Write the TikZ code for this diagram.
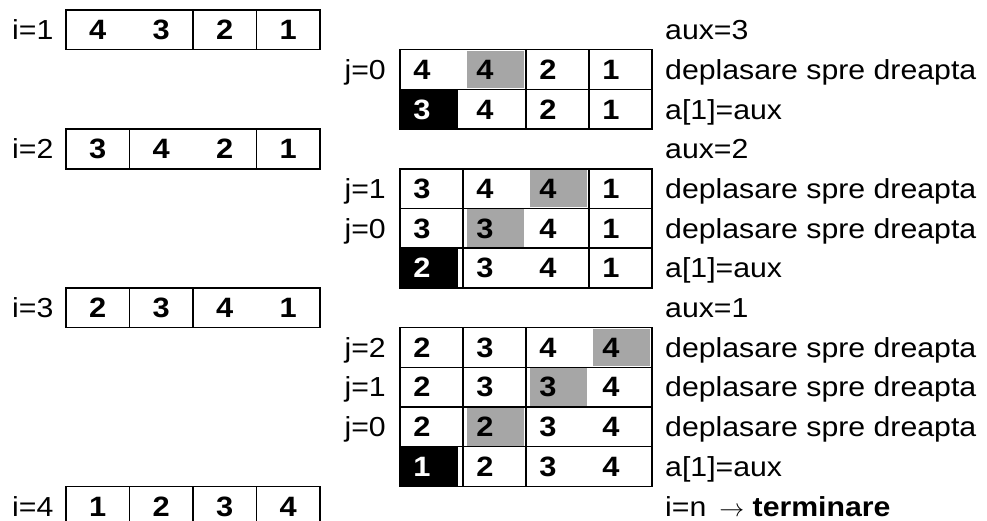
\documentclass[tikz,border=0pt]{standalone}
\usepackage{fontspec}
\setmainfont{Liberation Sans}[FakeStretch=1.1]
\tikzset{
  grid/.style={line width=1.5pt, line cap=rect},
  lab/.style={inner sep=0pt, font=\fontsize{27.5}{32}\selectfont},
  digit/.style={inner sep=0pt, font=\fontsize{28}{32}\selectfont\bfseries},
  shadegray/.style={fill=black!35},
  shadeblack/.style={fill=black},
}
% #1 row index, #2 label, #3 digits, #4 missing divider (0 = none)
\newcommand\LeftArr[4]{%
  \pgfmathsetmacro\yt{10+39.7*#1}%
  \pgfmathsetmacro\yb{\yt+39.7}%
  \pgfmathsetmacro\yc{\yt+19.85+9.8}%
  \draw[grid] (66,\yt) rectangle (320,\yb);
  \foreach \d/\xx in {1/129.5,2/193,3/256.5}{\ifnum\d=#4\relax\else\draw[grid] (\xx,\yt) -- (\xx,\yb);\fi}
  \node[lab,anchor=base west] (li#1) at (12,\yc) {#2};
  \foreach \v [count=\c] in {#3}{\node[digit,anchor=base] (l#1x\c) at ({66+63.5*(\c-0.5)},\yc) {\v};}
}
% #1 row, #2 label, #3 digits, #4 missing divider, #5 gray column (0 none), #6 black first cell (1/0)
\newcommand\MidRow[6]{%
  \pgfmathsetmacro\yt{10+39.7*#1}%
  \pgfmathsetmacro\yb{\yt+39.7}%
  \pgfmathsetmacro\yc{\yt+19.85+9.8}%
  \ifnum#5>0 \pgfmathsetmacro\gx{400+63*(#5-1)}\fill[shadegray] (\gx+4,\yt+1) rectangle (\gx+61,\yb-1);\fi
  \ifnum#6=1 \fill[shadeblack] (401,\yt) rectangle (458,\yb);\fi
  \draw[grid] (400,\yt) rectangle (652,\yb);
  \foreach \d/\xx in {1/463,2/526,3/589}{\ifnum\d=#4\relax\else\draw[grid] (\xx,\yt) -- (\xx,\yb);\fi}
  \node[lab,anchor=base east] (j#1) at (386,\yc) {#2};
  \foreach \v [count=\c] in {#3}{\node[digit,anchor=base] (m#1x\c) at ({400+63*(\c-1)+22},\yc) {\ifnum\c=1 \ifnum#6=1 \color{white}\fi\fi\v};}
}
\newcommand\RText[2]{%
  \pgfmathsetmacro\yc{10+39.7*#1+19.85+9.8}%
  \node[lab,anchor=base west] (r#1) at (665,\yc) {#2};
}
\begin{document}
\begin{tikzpicture}[x=1pt,y=-1pt]
  \useasboundingbox (0,0) rectangle (987,521);
  \clip (0,0) rectangle (987,521);
  \fill[white] (0,0) rectangle (987,521);

  \LeftArr{0}{i=1}{4,3,2,1}{1}
  \LeftArr{3}{i=2}{3,4,2,1}{2}
  \LeftArr{7}{i=3}{2,3,4,1}{3}
  \LeftArr{12}{i=4}{1,2,3,4}{0}

  \MidRow{1}{j=0}{4,4,2,1}{1}{2}{0}
  \MidRow{2}{}{3,4,2,1}{1}{0}{1}
  \MidRow{4}{j=1}{3,4,4,1}{2}{3}{0}
  \MidRow{5}{j=0}{3,3,4,1}{2}{2}{0}
  \MidRow{6}{}{2,3,4,1}{2}{0}{1}
  \MidRow{8}{j=2}{2,3,4,4}{3}{4}{0}
  \MidRow{9}{j=1}{2,3,3,4}{3}{3}{0}
  \MidRow{10}{j=0}{2,2,3,4}{3}{2}{0}
  \MidRow{11}{}{1,2,3,4}{3}{0}{1}

  \RText{0}{aux=3}
  \RText{1}{deplasare spre dreapta}
  \RText{2}{a[1]=aux}
  \RText{3}{aux=2}
  \RText{4}{deplasare spre dreapta}
  \RText{5}{deplasare spre dreapta}
  \RText{6}{a[1]=aux}
  \RText{7}{aux=1}
  \RText{8}{deplasare spre dreapta}
  \RText{9}{deplasare spre dreapta}
  \RText{10}{deplasare spre dreapta}
  \RText{11}{a[1]=aux}
  \RText{12}{i=n \,$\rightarrow$ \textbf{terminare}}
\end{tikzpicture}
\end{document}
